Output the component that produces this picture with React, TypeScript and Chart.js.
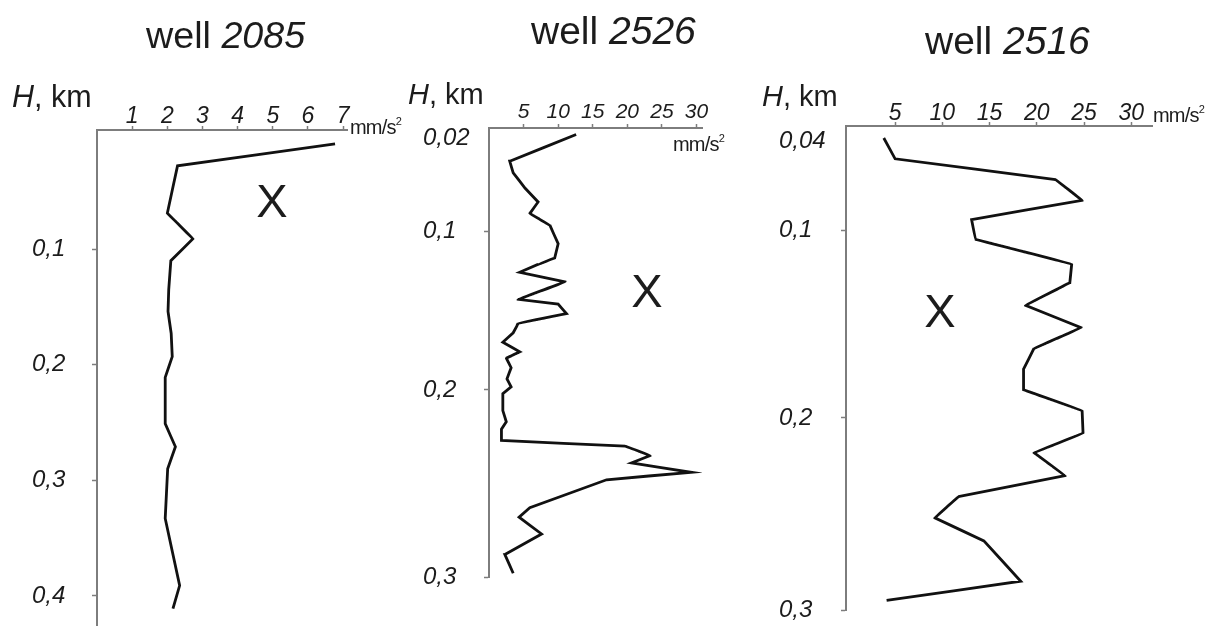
import React, { useEffect, useRef } from 'react';
import { Chart, registerables, LinearScale } from 'chart.js';

// ---------- data ----------
const well2085Depth = [0.009, 0.028, 0.069, 0.091, 0.110, 0.135, 0.154, 0.173, 0.193, 0.211, 0.251, 0.271, 0.290, 0.333, 0.391, 0.411];
const well2085Accel = [6.77, 2.29, 2.0, 2.73, 2.1, 2.04, 2.02, 2.11, 2.14, 1.94, 1.94, 2.23, 2.01, 1.94, 2.35, 2.16];

const well2526Depth = [0.017, 0.040, 0.050, 0.063, 0.075, 0.085, 0.095, 0.108, 0.117, 0.121, 0.126, 0.132, 0.143, 0.146, 0.152, 0.158, 0.160, 0.164, 0.170, 0.176, 0.180, 0.186, 0.193, 0.198, 0.202, 0.211, 0.217, 0.221, 0.227, 0.230, 0.235, 0.239, 0.244, 0.248, 0.263, 0.268, 0.277, 0.288, 0.298];
const well2526Accel = [12.6, 3.0, 3.5, 5.2, 7.1, 5.9, 8.8, 10.0, 9.5, 7.1, 4.45, 11.0, 4.2, 10.0, 11.2, 4.2, 4.0, 3.5, 2.0, 4.45, 2.5, 3.2, 2.6, 3.2, 2.0, 2.0, 2.5, 1.8, 1.8, 19.7, 23.3, 20.6, 29.2, 17.0, 5.9, 4.35, 7.6, 2.3, 3.5];

const well2516Depth = [0.038, 0.052, 0.066, 0.080, 0.093, 0.105, 0.118, 0.128, 0.140, 0.152, 0.163, 0.174, 0.185, 0.196, 0.208, 0.218, 0.230, 0.241, 0.252, 0.264, 0.285, 0.295];
const well2516Accel = [3.8, 5.0, 22.0, 24.8, 13.1, 13.5, 23.7, 23.5, 18.8, 24.7, 19.7, 18.6, 18.6, 24.8, 24.9, 19.7, 23.0, 11.7, 9.2, 14.4, 18.3, 4.1];

const well2085XTicks = [1, 2, 3, 4, 5, 6, 7];
const well2526XTicks = [5, 10, 15, 20, 25, 30];
const well2516XTicks = [5, 10, 15, 20, 25, 30];

const well2085DepthTicks = [0.1, 0.2, 0.3, 0.4];
const well2526DepthTicks = [0.02, 0.1, 0.2, 0.3];
const well2516DepthTicks = [0.04, 0.1, 0.2, 0.3];

const wellNames = ['2085', '2526', '2516'];

// ---------- piecewise depth scale (the source uses an uneven depth axis) ----------
function valueToDecimal(v: number, knots: number[][]): number {
  for (let i = 1; i < knots.length; i++) {
    const [v0, d0] = knots[i - 1];
    const [v1, d1] = knots[i];
    if (v <= v1 || i === knots.length - 1) {
      return d0 + ((v - v0) / (v1 - v0)) * (d1 - d0);
    }
  }
  return 0;
}
function decimalToValue(d: number, knots: number[][]): number {
  for (let i = 1; i < knots.length; i++) {
    const [v0, d0] = knots[i - 1];
    const [v1, d1] = knots[i];
    if (d <= d1 || i === knots.length - 1) {
      return v0 + ((d - d0) / (d1 - d0)) * (v1 - v0);
    }
  }
  return 0;
}

class PiecewiseScale extends LinearScale {
  static id = 'piecewise';
  static defaults = LinearScale.defaults;
  getPixelForValue(value: any) {
    if (value === null || value === undefined || isNaN(value)) return NaN;
    const knots = (this as any)._knots;
    if (!knots) return super.getPixelForValue(value);
    return this.getPixelForDecimal(valueToDecimal(value, knots));
  }
  getValueForPixel(pixel: number) {
    const knots = (this as any)._knots;
    if (!knots) return super.getValueForPixel(pixel);
    return decimalToValue(this.getDecimalForPixel(pixel), knots);
  }
}

Chart.register(...registerables, PiecewiseScale as any);

const FONT = "'Liberation Sans', Arial, Helvetica, sans-serif";
const AXIS_COLOR = '#7d7d7d';
const TEXT_COLOR = '#1c1c1c';

type PanelSpec = {
  depth: number[];
  accel: number[];
  xTicks: number[];
  yTicks: number[];
  xMin: number;
  xMax: number;
  yMin: number;
  yMax: number;
  knots?: number[][];
  hiddenTickMarks?: number[];
  padding: { left: number; right: number; top: number; bottom: number };
  yAxisWidth: number;
  xFontSize: number;
  xPad: number;
};

const panels: PanelSpec[] = [
  {
    depth: well2085Depth,
    accel: well2085Accel,
    xTicks: well2085XTicks,
    yTicks: well2085DepthTicks,
    xMin: 0,
    xMax: 7.11,
    yMin: -0.003,
    yMax: 0.426,
    padding: { left: 32, right: 1205 - 347, top: 130 - 40, bottom: 0 },
    yAxisWidth: 65,
    xFontSize: 23,
    xPad: -2.5,
  },
  {
    depth: well2526Depth,
    accel: well2526Accel,
    xTicks: well2526XTicks,
    yTicks: well2526DepthTicks,
    xMin: 0,
    xMax: 30.8,
    yMin: 0.0114,
    yMax: 0.3,
    knots: [[0.0114, 0], [0.02, 0.0223], [0.1, 0.2294], [0.2, 0.5835], [0.3, 1]],
    hiddenTickMarks: [0.02],
    padding: { left: 423, right: 1205 - 702, top: 128 - 40, bottom: 626 - 577 },
    yAxisWidth: 66,
    xFontSize: 21,
    xPad: 1.5,
  },
  {
    depth: well2516Depth,
    accel: well2516Accel,
    xTicks: well2516XTicks,
    yTicks: well2516DepthTicks,
    xMin: -0.2,
    xMax: 32.2,
    yMin: 0.0299,
    yMax: 0.3,
    knots: [[0.0299, 0], [0.04, 0.031], [0.1, 0.2149], [0.2, 0.6033], [0.3, 1]],
    hiddenTickMarks: [0.04],
    padding: { left: 779, right: 1205 - 1152, top: 126 - 40, bottom: 626 - 610 },
    yAxisWidth: 67,
    xFontSize: 23,
    xPad: -3,
  },
];

function makeConfig(p: PanelSpec): any {
  return {
    type: 'line',
    data: {
      datasets: [
        {
          data: p.depth.map((d, i) => ({ x: p.accel[i], y: d })),
          borderColor: '#111111',
          borderWidth: 2.8,
          pointRadius: 0,
          tension: 0.000001,
          fill: false,
          borderJoinStyle: 'miter',
        },
      ],
    },
    options: {
      responsive: false,
      animation: false,
      devicePixelRatio: 1,
      indexAxis: 'y',
      events: [],
      layout: { padding: p.padding },
      plugins: {
        legend: { display: false },
        tooltip: { enabled: false },
        title: { display: false },
      },
      scales: {
        x: {
          type: 'linear',
          position: 'top',
          min: p.xMin,
          max: p.xMax,
          afterBuildTicks: (s: any) => {
            s.ticks = p.xTicks.map((v) => ({ value: v }));
          },
          afterFit: (s: any) => {
            s.height = 40;
            s.paddingLeft = 0;
            s.paddingRight = 0;
          },
          ticks: {
            autoSkip: false,
            maxRotation: 0,
            minRotation: 0,
            padding: p.xPad,
            color: TEXT_COLOR,
            font: { family: FONT, size: p.xFontSize, style: 'italic', lineHeight: 1 },
            callback: (v: any) => String(v),
          },
          grid: {
            display: true,
            drawOnChartArea: false,
            drawTicks: true,
            tickLength: 4,
            tickWidth: 1.5,
            tickColor: AXIS_COLOR,
          },
          border: { display: true, color: AXIS_COLOR, width: 2 },
        },
        y: {
          type: p.knots ? 'piecewise' : 'linear',
          position: 'left',
          reverse: true,
          min: p.yMin,
          max: p.yMax,
          afterDataLimits: (s: any) => {
            s._knots = p.knots;
          },
          afterBuildTicks: (s: any) => {
            s._knots = p.knots;
            s.ticks = p.yTicks.map((v) => ({ value: v }));
          },
          afterFit: (s: any) => {
            s.width = p.yAxisWidth;
            s.paddingTop = 0;
            s.paddingBottom = 0;
          },
          ticks: {
            autoSkip: false,
            crossAlign: 'far',
            color: TEXT_COLOR,
            font: { family: FONT, size: 24, style: 'italic', lineHeight: 1 },
            callback: (v: any) => String(v).replace('.', ','),
          },
          grid: {
            display: true,
            drawOnChartArea: false,
            drawTicks: true,
            tickLength: 5,
            tickWidth: 1.5,
            tickColor: (ctx: any) =>
              ctx.tick && p.hiddenTickMarks && p.hiddenTickMarks.includes(ctx.tick.value)
                ? 'rgba(0,0,0,0)'
                : AXIS_COLOR,
          },
          border: { display: true, color: AXIS_COLOR, width: 2 },
        },
      },
    },
  };
}

function Panel({ spec }: { spec: PanelSpec }) {
  const ref = useRef<HTMLCanvasElement>(null);
  useEffect(() => {
    if (!ref.current) return;
    const chart = new Chart(ref.current, makeConfig(spec));
    return () => chart.destroy();
  }, [spec]);
  return (
    <canvas
      ref={ref}
      width={1205}
      height={626}
      style={{ position: 'absolute', left: 0, top: 0, width: 1205, height: 626 }}
    />
  );
}

const abs = (left: number, top: number, size: number, extra: React.CSSProperties = {}): React.CSSProperties => ({
  position: 'absolute',
  left,
  top,
  fontSize: size,
  lineHeight: 1,
  fontFamily: FONT,
  color: TEXT_COLOR,
  whiteSpace: 'nowrap',
  ...extra,
});

const titlePos = [
  { left: 146, top: 16.5, size: 37.7 },
  { left: 531, top: 11, size: 39 },
  { left: 925, top: 21, size: 39 },
];
const hkmPos = [
  { left: 12, top: 81, size: 30.5 },
  { left: 408, top: 80, size: 29 },
  { left: 762, top: 82, size: 29 },
];
const unitPos = [
  { left: 350, top: 117 },
  { left: 673, top: 134 },
  { left: 1153, top: 105 },
];
const xMarkPos = [
  { left: 272, top: 200 },
  { left: 647, top: 290 },
  { left: 940, top: 310 },
];

export default function App() {
  return (
    <div
      style={{
        position: 'absolute',
        left: 0,
        top: 0,
        width: 1205,
        height: 626,
        background: '#ffffff',
        overflow: 'hidden',
      }}
    >
      {panels.map((p, i) => (
        <Panel key={i} spec={p} />
      ))}
      {wellNames.map((n, i) => (
        <div key={'t' + i} style={abs(titlePos[i].left, titlePos[i].top, titlePos[i].size)}>
          well <span style={{ fontStyle: 'italic' }}>{n}</span>
        </div>
      ))}
      {hkmPos.map((pos, i) => (
        <div key={'h' + i} style={abs(pos.left, pos.top, pos.size)}>
          <span style={{ fontStyle: 'italic' }}>H</span>, km
        </div>
      ))}
      {unitPos.map((pos, i) => (
        <div key={'u' + i} style={abs(pos.left, pos.top, 20, { letterSpacing: -0.8 })}>
          mm/s<span style={{ fontSize: 11, position: 'relative', top: -9 }}>2</span>
        </div>
      ))}
      {xMarkPos.map((pos, i) => (
        <div
          key={'x' + i}
          style={abs(pos.left, pos.top, 47, { transform: 'translate(-50%, -50%)' })}
        >
          X
        </div>
      ))}
    </div>
  );
}
